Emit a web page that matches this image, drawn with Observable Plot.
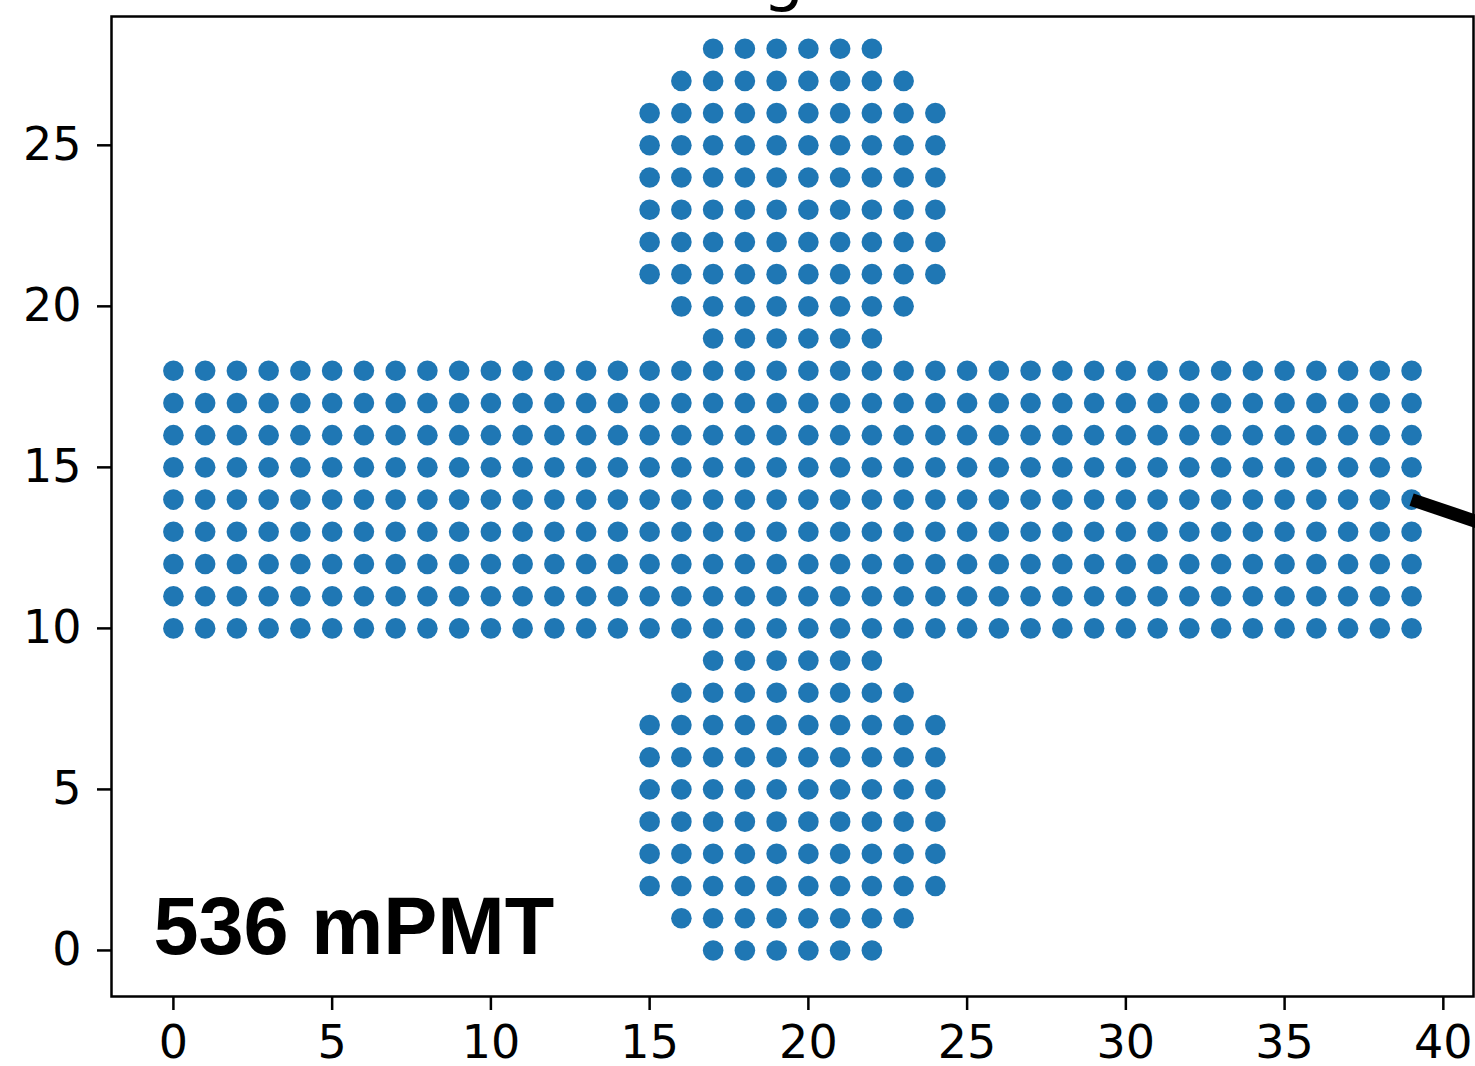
<!DOCTYPE html>
<html>
<head>
<meta charset="utf-8">
<script src="https://cdn.jsdelivr.net/npm/d3@7"></script>
<script src="https://cdn.jsdelivr.net/npm/@observablehq/plot@0.6"></script>
<style>
  html, body { margin: 0; padding: 0; background: white; }
  #chart svg { display: block; }
</style>
</head>
<body>
<div id="chart"></div>
<script>
// Each row of mPMT positions: y value, first x, last x (integer grid)
const rowY     = [0, 1, 2, 3, 4, 5, 6, 7, 8, 9,
                  10, 11, 12, 13, 14, 15, 16, 17, 18,
                  19, 20, 21, 22, 23, 24, 25, 26, 27, 28];
const rowStart = [17, 16, 15, 15, 15, 15, 15, 15, 16, 17,
                  0, 0, 0, 0, 0, 0, 0, 0, 0,
                  17, 16, 15, 15, 15, 15, 15, 15, 16, 17];
const rowEnd   = [22, 23, 24, 24, 24, 24, 24, 24, 23, 22,
                  39, 39, 39, 39, 39, 39, 39, 39, 39,
                  22, 23, 24, 24, 24, 24, 24, 24, 23, 22];

const xTicks = [0, 5, 10, 15, 20, 25, 30, 35, 40];
const yTicks = [0, 5, 10, 15, 20, 25];

const pointerX = [39, 42];
const pointerY = [14, 13];

const label = "536 mPMT";
const titleVisible = "g";

const points = [];
rowY.forEach((y, i) => {
  for (let x = rowStart[i]; x <= rowEnd[i]; x++) points.push({x, y});
});
const pointer = pointerX.map((x, i) => ({x, y: pointerY[i]}));

const chart = Plot.plot({
  width: 1475,
  height: 1066,
  marginLeft: 111,
  marginRight: 2,
  marginTop: 16,
  marginBottom: 70,
  style: {fontFamily: "DejaVu Sans", fontSize: "46px", color: "black", background: "white"},
  x: {domain: [-1.95, 40.95], ticks: xTicks, label: null},
  y: {domain: [-1.43, 29.0], ticks: yTicks, label: null},
  marks: [
    Plot.dot(points, {x: "x", y: "y", r: 10.3, fill: "#1f77b4", stroke: "none"}),
    Plot.line(pointer, {x: "x", y: "y", stroke: "black", strokeWidth: 13, strokeLinecap: "butt", clip: false}),
    Plot.frame({stroke: "black", strokeWidth: 2.5}),
    Plot.axisX({ticks: xTicks, tickSize: 14, tickPadding: 15, tickFormat: d => String(d), fontSize: 46, strokeWidth: 2.5, label: null}),
    Plot.axisY({ticks: yTicks, tickSize: 14, tickPadding: 16, tickFormat: d => String(d), fontSize: 46, strokeWidth: 2.5, label: null}),
    Plot.text([label], {frameAnchor: "bottom-left", text: d => d, dx: 42, dy: -43, lineAnchor: "bottom", textAnchor: "start",
      fontFamily: "Liberation Sans", fontWeight: "bold", fontSize: 81, fill: "black", letterSpacing: "-1px"}),
    Plot.text([titleVisible], {frameAnchor: "top", text: d => d, dx: -9, dy: -19, lineAnchor: "bottom",
      fontFamily: "DejaVu Sans", fontSize: 66, fill: "black"})
  ]
});
document.getElementById("chart").appendChild(chart);
</script>
</body>
</html>
